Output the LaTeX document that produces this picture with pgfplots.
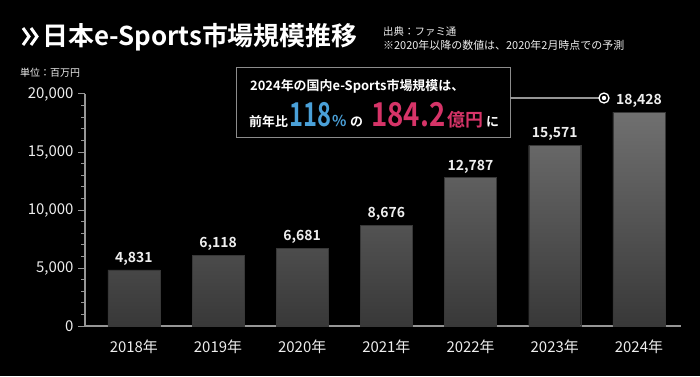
\documentclass[border=0pt]{standalone}
\usepackage{fontspec}
\setmainfont{Noto Sans CJK JP}[BoldFont={Noto Sans CJK JP Bold}]
\usepackage{graphicx}
\usepackage{pgfplots}
\pgfplotsset{compat=1.18}
\definecolor{axisgray}{RGB}{150,150,150}
\definecolor{boxgray}{RGB}{140,140,140}
\definecolor{bartop}{RGB}{112,112,112}
\definecolor{barbot}{RGB}{56,56,56}
\definecolor{blueT}{RGB}{74,160,216}
\definecolor{redT}{RGB}{214,52,104}
\definecolor{txt}{RGB}{238,238,238}
\newcommand{\fs}[1]{\fontsize{#1}{#1}\selectfont}
\begin{document}
\begin{tikzpicture}[x=1bp,y=1bp]
\fill[black] (0,0) rectangle (700,376);
\useasboundingbox (0,0) rectangle (700,376);
\begin{axis}[
  at={(85bp,50bp)}, anchor=south west,
  scale only axis, width=596bp, height=232bp,
  xmin=-0.58, xmax=6.5, ymin=0, ymax=20000,
  axis x line*=bottom, axis y line*=left,
  axis line style={axisgray, line width=1.5bp, -},
  ybar, bar width=52bp,
  xtick={0,...,6},
  xticklabels={2018年,2019年,2020年,2021年,2022年,2023年,2024年},
  x tick style={draw=none},
  ytick={0,5000,10000,15000,20000},
  minor ytick={1000,2000,3000,4000,6000,7000,8000,9000,11000,12000,13000,14000,16000,17000,18000,19000},
  tick align=outside,
  major tick length=7bp, minor tick length=4bp,
  y tick style={axisgray, line width=1bp},
  minor tick style={axisgray, line width=0.8bp},
  scaled y ticks=false,
  /pgf/number format/1000 sep={,},
  /pgf/number format/assume math mode=true,
  yticklabel style={font=\fs{15}, text=txt, xshift=-1bp},
  xticklabel style={font=\fs{15}, text=txt, yshift=-3bp},
  nodes near coords,
  every node near coord/.append style={font=\bfseries\fs{14}, text=txt, yshift=1bp},
  clip=false,
]
\addplot[draw=barbot, top color=bartop, bottom color=barbot] coordinates {(0,4831) (1,6118) (2,6681) (3,8676) (4,12787) (5,15571) (6,18428)};
\end{axis}
% title and notes
\draw[white, line width=3bp, line cap=butt, line join=miter] (23,348) -- (29,339.5) -- (23,331);
\draw[white, line width=3bp, line cap=butt, line join=miter] (31,348) -- (37,339.5) -- (31,331);
\node[anchor=west, text=white, font=\bfseries\fs{26}, inner sep=0] at (42,339) {日本e-Sports市場規模推移};
\node[anchor=west, text=txt, font=\fs{10.5}, inner sep=0] at (383,344) {出典：ファミ通};
\node[anchor=west, text=txt, font=\fs{11}, inner sep=0] at (383,331) {※2020年以降の数値は、2020年2月時点での予測};
\node[anchor=west, text=txt, font=\fs{10}, inner sep=0] at (20,303) {単位：百万円};
% callout
\draw[boxgray, line width=1bp] (236,239) rectangle (510,309);
\node[anchor=west, text=white, font=\bfseries\fs{13}, inner sep=0] at (250,290) {2024年の国内e-Sports市場規模は、};
\node[anchor=base west, text=white, font=\bfseries\fs{13}, inner sep=0] at (249,250) {前年比};
\node[anchor=base west, text=blueT, font=\bfseries\fs{33}, inner sep=0] at (289,250) {\scalebox{0.72}[1]{118}};
\node[anchor=base west, text=blueT, font=\bfseries\fs{15}, inner sep=0] at (332,250) {\%};
\node[anchor=base west, text=white, font=\bfseries\fs{13}, inner sep=0] at (350,250) {の};
\node[anchor=base west, text=redT, font=\bfseries\fs{33}, inner sep=0] at (371,250) {\scalebox{0.84}[1]{184.2}};
\node[anchor=base west, text=redT, font=\bfseries\fs{18}, inner sep=0] at (447,250) {億円};
\node[anchor=base west, text=white, font=\bfseries\fs{13}, inner sep=0] at (486,250) {に};
\draw[axisgray, line width=1.2bp] (510,278) -- (599,278);
\draw[white, line width=1.3bp] (604,278) circle[radius=5];
\fill[white] (604,278) circle[radius=2.2];
\end{tikzpicture}
\end{document}
